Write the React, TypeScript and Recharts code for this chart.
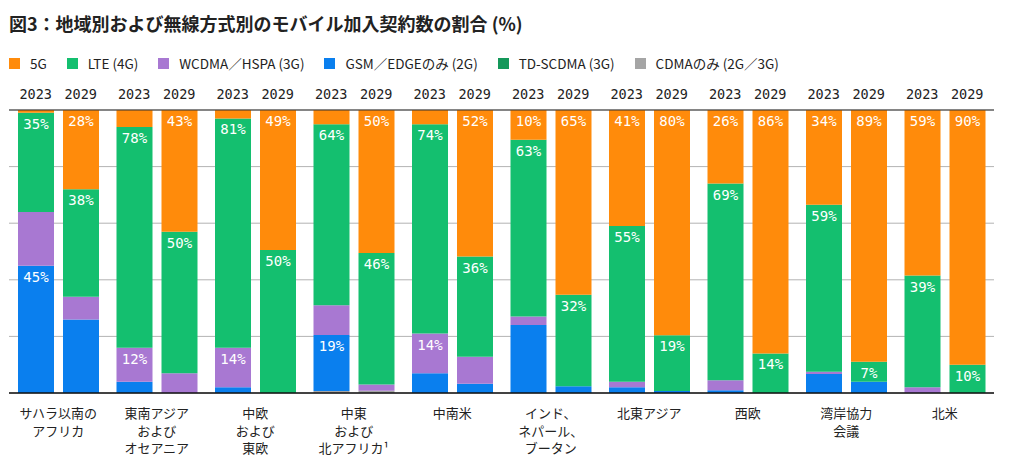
import { BarChart, Bar, XAxis, YAxis, CartesianGrid, LabelList } from 'recharts';

const categories = [
  'サハラ以南の\nアフリカ',
  '東南アジア\nおよび\nオセアニア',
  '中欧\nおよび\n東欧',
  '中東\nおよび\n北アフリカ¹',
  '中南米',
  'インド、\nネパール、\nブータン',
  '北東アジア',
  '西欧',
  '湾岸協力\n会議',
  '北米',
];
const years = ['2023', '2029'];

// share of subscriptions (%), 2023
const fiveG2023 = [1, 6, 3, 5, 5, 10.5, 41, 26, 33.5, 58.5];
const lte2023 = [35, 78, 81, 64, 74, 62.5, 55, 69.5, 59, 39.5];
const wcdma2023 = [19, 12, 14, 10.5, 14, 3, 2, 3.5, 0.8, 2];
const gsm2023 = [45, 4, 2, 19.8, 7, 24, 2, 1, 6.7, 0];
const tdscdma2023 = [0, 0, 0, 0, 0, 0, 0, 0, 0, 0];
const cdma2023 = [0, 0, 0, 0.7, 0, 0, 0, 0, 0, 0];

// share of subscriptions (%), 2029
const fiveG2029 = [28, 43, 49.5, 50.5, 51.8, 65.3, 79.6, 86, 89, 90];
const lte2029 = [38, 50, 50.5, 46.5, 35.4, 32.3, 19.7, 14, 7, 10];
const wcdma2029 = [8, 7, 0, 2.2, 9.5, 0, 0, 0, 0, 0];
const gsm2029 = [26, 0, 0, 0, 3.3, 2.4, 0.7, 0, 4, 0];
const tdscdma2029 = [0, 0, 0, 0, 0, 0, 0, 0, 0, 0];
const cdma2029 = [0, 0, 0, 0.8, 0, 0, 0, 0, 0, 0];

// printed labels (null = no label on that segment)
const fiveGLabels2023 = [null, null, null, null, null, 10, 41, 26, 34, 59];
const lteLabels2023 = [35, 78, 81, 64, 74, 63, 55, 69, 59, 39];
const wcdmaLabels2023 = [null, 12, 14, null, 14, null, null, null, null, null];
const gsmLabels2023 = [45, null, null, 19, null, null, null, null, null, null];
const fiveGLabels2029 = [28, 43, 49, 50, 52, 65, 80, 86, 89, 90];
const lteLabels2029 = [38, 50, 50, 46, 36, 32, 19, 14, 7, 10];

const values: Record<string, Record<string, number[]>> = {
  '2023': { cdma: cdma2023, tdscdma: tdscdma2023, gsm: gsm2023, wcdma: wcdma2023, lte: lte2023, fiveG: fiveG2023 },
  '2029': { cdma: cdma2029, tdscdma: tdscdma2029, gsm: gsm2029, wcdma: wcdma2029, lte: lte2029, fiveG: fiveG2029 },
};
const labels: Record<string, Record<string, (number | null)[]>> = {
  '2023': { fiveG: fiveGLabels2023, lte: lteLabels2023, wcdma: wcdmaLabels2023, gsm: gsmLabels2023 },
  '2029': { fiveG: fiveGLabels2029, lte: lteLabels2029 },
};

// stacking order: bottom first
const seriesMeta = [
  { key: 'cdma', name: 'CDMAのみ (2G／3G)', color: '#a5a5a5' },
  { key: 'tdscdma', name: 'TD-SCDMA (3G)', color: '#14985a' },
  { key: 'gsm', name: 'GSM／EDGEのみ (2G)', color: '#0a7fee' },
  { key: 'wcdma', name: 'WCDMA／HSPA (3G)', color: '#a878d2' },
  { key: 'lte', name: 'LTE (4G)', color: '#14bf6f' },
  { key: 'fiveG', name: '5G', color: '#ff8b0b' },
];

const data = categories.map((region, i) => {
  const row: Record<string, any> = { region };
  years.forEach((yr) => {
    seriesMeta.forEach((s) => {
      row[`${s.key}_${yr}`] = values[yr][s.key][i];
      const lab = labels[yr][s.key];
      row[`${s.key}_${yr}_label`] = lab ? lab[i] : null;
    });
  });
  return row;
});

const MONO = "'DejaVu Sans Mono', monospace";
const JP = "'Noto Sans CJK JP', 'Noto Sans', sans-serif";

const SegmentLabel = (props: any) => {
  const { x, y, width, value } = props;
  if (value === null || value === undefined) return null;
  return (
    <text
      x={Number(x) + Number(width) / 2}
      y={Number(y) + 16}
      textAnchor="middle"
      fill="#ffffff"
      fontSize={14}
      fontFamily={MONO}
    >
      {value}%
    </text>
  );
};

const YearTick = (props: any) => {
  const { x, y } = props;
  return (
    <g>
      {years.map((yr, i) => (
        <text
          key={yr}
          x={x + (i === 0 ? -22.5 : 22.5)}
          y={y - 11}
          textAnchor="middle"
          fill="#222"
          fontSize={13.5}
          fontFamily={MONO}
        >
          {yr}
        </text>
      ))}
    </g>
  );
};

const RegionTick = (props: any) => {
  const { x, y, payload } = props;
  const lines = String(payload.value).split('\n');
  return (
    <text x={x} y={y + 25} textAnchor="middle" fill="#222" fontSize={13} fontFamily={JP}>
      {lines.map((line, i) => (
        <tspan key={i} x={x} dy={i === 0 ? 0 : 17.5}>
          {line}
        </tspan>
      ))}
    </text>
  );
};

const legendOrder = ['fiveG', 'lte', 'wcdma', 'gsm', 'tdscdma', 'cdma'];

export default function App() {
  return (
    <div style={{ position: 'relative', width: 1000, height: 457, fontFamily: JP, color: '#222' }}>
      <div
        style={{
          position: 'absolute',
          left: 1,
          top: 4,
          fontSize: 18,
          lineHeight: '22px',
          fontWeight: 700,
          whiteSpace: 'nowrap',
        }}
      >
        図3：地域別および無線方式別のモバイル加入契約数の割合 (%)
      </div>
      <div
        style={{
          position: 'absolute',
          left: 1,
          top: 46,
          height: 18,
          display: 'flex',
          alignItems: 'center',
          fontSize: 13.5,
          whiteSpace: 'nowrap',
        }}
      >
        {legendOrder.map((k) => {
          const s = seriesMeta.find((m) => m.key === k)!;
          return (
            <div key={k} style={{ display: 'flex', alignItems: 'center', marginRight: 20 }}>
              <span style={{ width: 11, height: 11, background: s.color, marginRight: 10, display: 'inline-block' }} />
              <span>{s.name}</span>
            </div>
          );
        })}
      </div>
      <div style={{ position: 'absolute', left: 0, top: 0 }}>
        <BarChart
          width={1000}
          height={457}
          data={data}
          margin={{ top: 72, right: 14, left: 1, bottom: 12 }}
          barGap={9}
        >
          <CartesianGrid vertical={false} stroke="#b3b3b3" />
          <YAxis hide domain={[0, 100]} ticks={[0, 20, 40, 60, 80, 100]} />
          <XAxis
            xAxisId="top"
            orientation="top"
            dataKey="region"
            height={30}
            tickSize={0}
            tickMargin={0}
            tickLine={false}
            axisLine={{ stroke: '#333', strokeWidth: 1.2 }}
            tick={<YearTick />}
            interval={0}
          />
          <XAxis
            dataKey="region"
            height={60}
            tickSize={0}
            tickMargin={0}
            tickLine={false}
            axisLine={{ stroke: '#111', strokeWidth: 1.4 }}
            tick={<RegionTick />}
            interval={0}
          />
          {years.flatMap((yr) =>
            seriesMeta.map((s) => (
              <Bar
                key={`${s.key}_${yr}`}
                dataKey={`${s.key}_${yr}`}
                stackId={yr}
                fill={s.color}
                barSize={36}
                isAnimationActive={false}
              >
                {labels[yr][s.key] ? (
                  <LabelList dataKey={`${s.key}_${yr}_label`} content={SegmentLabel} />
                ) : null}
              </Bar>
            ))
          )}
        </BarChart>
      </div>
    </div>
  );
}
